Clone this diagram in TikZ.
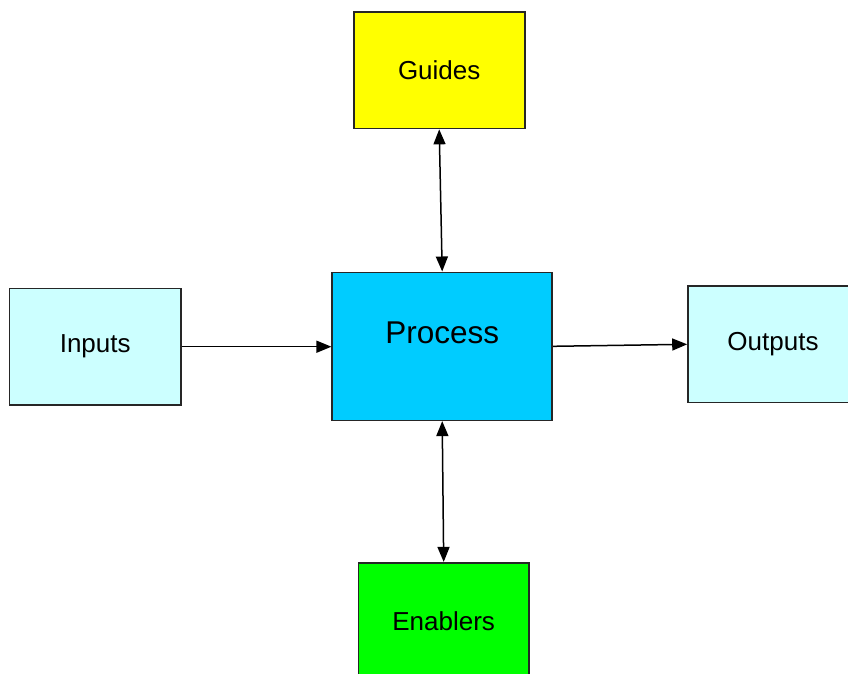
\documentclass[tikz,border=0pt]{standalone}
\usepackage{fontspec}
\setmainfont{Liberation Sans}
\usetikzlibrary{arrows.meta}
\definecolor{guideyellow}{HTML}{FFFF00}
\definecolor{processblue}{HTML}{00CCFF}
\definecolor{ioblue}{HTML}{CCFFFF}
\definecolor{enablegreen}{HTML}{00FF00}
\tikzset{
  box/.style={draw=black!85, line width=1.6pt, inner sep=0pt, font=\fontsize{26}{30}\selectfont},
  link/.style={line width=1.5pt, -{Triangle[length=15pt,width=12pt]}},
  duplex/.style={line width=1.5pt, {Triangle[length=15pt,width=12pt]}-{Triangle[length=15pt,width=12pt]}}
}
\begin{document}
\begin{tikzpicture}[x=1pt,y=-1pt]
\useasboundingbox (0,0) rectangle (848,673);
\clip (0,0) rectangle (848,673);
\fill[white] (0,0) rectangle (848,673);

\node[box, fill=guideyellow, minimum width=171pt, minimum height=116.5pt] (guides) at (439.2,70.3) {Guides};
\node[box, fill=processblue, minimum width=220pt, minimum height=148pt,
      label={[font=\fontsize{31.5}{36}\selectfont, yshift=13pt]center:Process}] (process) at (442.2,346.3) {};
\node[box, fill=ioblue, minimum width=171.5pt, minimum height=116.5pt] (inputs) at (95.2,346.7) {Inputs};
\node[box, fill=ioblue, minimum width=170pt, minimum height=116.5pt] (outputs) at (773,344.3) {Outputs};
\node[box, fill=enablegreen, minimum width=170.5pt, minimum height=116pt] (enablers) at (443.7,620.7) {Enablers};

\draw[duplex] (guides.south) -- (process.north);
\draw[duplex] (process.south) -- (enablers.north);
\draw[link] (inputs.east) -- (inputs.east -| process.west);
\draw[link] (process.east) -- (outputs.west);
\end{tikzpicture}
\end{document}
